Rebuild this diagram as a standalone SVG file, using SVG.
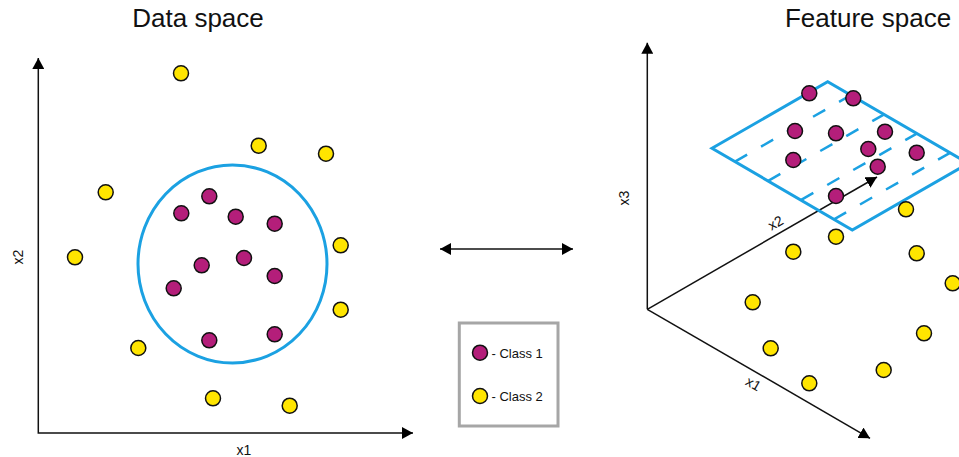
<svg xmlns="http://www.w3.org/2000/svg" width="959" height="457" viewBox="0 0 959 457">
  <style>
    text { font-family: "Liberation Sans", Arial, sans-serif; fill: #111; }
    .title { font-size: 26px; text-anchor: middle; }
    .axis-label { font-size: 14px; text-anchor: middle; }
    .legend-text { font-size: 13px; }
    .axis { fill: none; stroke: #111; stroke-width: 1.5; }
    .c1 { fill: #B41E7A; stroke: #111; stroke-width: 1.5; }
    .c2 { fill: #FFE500; stroke: #111; stroke-width: 1.5; }
    .boundary { fill: none; stroke: #1BA1E2; stroke-width: 3; }
    .grid { fill: none; stroke: #1BA1E2; stroke-width: 2.5; stroke-dasharray: 14 16; }
  </style>
  <defs>
    <marker id="arrow" viewBox="0 0 11 12" refX="11" refY="6" markerWidth="11" markerHeight="12" markerUnits="userSpaceOnUse" orient="auto-start-reverse">
      <path d="M0,0 L11,6 L0,12 z" fill="#000"/>
    </marker>
  </defs>
  <rect width="959" height="457" fill="#fff"/>

  <!-- titles -->
  <text class="title" x="198" y="27">Data space</text>
  <text class="title" x="868" y="27">Feature space</text>

  <!-- connectors: axes and the mapping arrow -->
  <g id="connectors">
    <polyline class="axis" points="38.3,58 38.3,433 413,433" marker-start="url(#arrow)" marker-end="url(#arrow)"/>
    <line class="axis" x1="440" y1="249" x2="573" y2="249" marker-start="url(#arrow)" marker-end="url(#arrow)"/>
    <line class="axis" x1="647.3" y1="309.3" x2="647.3" y2="42.7" marker-end="url(#arrow)"/>
    <line class="axis" x1="647.3" y1="309.3" x2="877" y2="177" marker-end="url(#arrow)"/>
    <line class="axis" x1="647.3" y1="309.3" x2="870" y2="438.3" marker-end="url(#arrow)"/>
  </g>

  <!-- axis labels -->
  <text class="axis-label" x="244" y="455">x1</text>
  <text class="axis-label" transform="translate(23,257) rotate(-90)">x2</text>
  <text class="axis-label" transform="translate(629,198) rotate(-90)">x3</text>
  <text class="axis-label" transform="translate(778,227) rotate(-30)">x2</text>
  <text class="axis-label" transform="translate(751,388) rotate(30)">x1</text>

  <!-- decision boundary in data space -->
  <g id="circle-boundary">
    <ellipse class="boundary" cx="232.5" cy="264" rx="94.5" ry="99"/>
  </g>

  <!-- separating plane in feature space -->
  <g id="plane">
    <polygon class="boundary" points="712,148.3 827.7,81.7 968.4,163.4 852.3,230"/>
    <line class="grid" x1="735" y1="161.6" x2="851" y2="95"/>
    <line class="grid" x1="768.2" y1="180.9" x2="884.2" y2="114.3"/>
    <line class="grid" x1="801.2" y1="199.9" x2="917.2" y2="133.3"/>
    <line class="grid" x1="834" y1="219.4" x2="950" y2="152.8"/>
  </g>

  <!-- data space points -->
  <g id="data-class2">
    <circle class="c2" cx="181" cy="73.3" r="7.5"/>
    <circle class="c2" cx="258.7" cy="145.7" r="7.5"/>
    <circle class="c2" cx="326" cy="153.7" r="7.5"/>
    <circle class="c2" cx="105.7" cy="192.3" r="7.5"/>
    <circle class="c2" cx="75" cy="257.3" r="7.5"/>
    <circle class="c2" cx="340.7" cy="245.3" r="7.5"/>
    <circle class="c2" cx="340.7" cy="309.7" r="7.5"/>
    <circle class="c2" cx="138.3" cy="348" r="7.5"/>
    <circle class="c2" cx="213" cy="398.3" r="7.5"/>
    <circle class="c2" cx="289.7" cy="405.7" r="7.5"/>
  </g>
  <g id="data-class1">
    <circle class="c1" cx="209.3" cy="196.3" r="7.5"/>
    <circle class="c1" cx="181.3" cy="213.3" r="7.5"/>
    <circle class="c1" cx="235.7" cy="216.7" r="7.5"/>
    <circle class="c1" cx="274.7" cy="223.7" r="7.5"/>
    <circle class="c1" cx="244" cy="258" r="7.5"/>
    <circle class="c1" cx="201.7" cy="265.3" r="7.5"/>
    <circle class="c1" cx="274.7" cy="276" r="7.5"/>
    <circle class="c1" cx="173.7" cy="288.3" r="7.5"/>
    <circle class="c1" cx="209.3" cy="340.3" r="7.5"/>
    <circle class="c1" cx="274.7" cy="334.3" r="7.5"/>
  </g>

  <!-- feature space points -->
  <g id="feature-class1">
    <circle class="c1" cx="809.3" cy="93.3" r="7.5"/>
    <circle class="c1" cx="853.3" cy="98.3" r="7.5"/>
    <circle class="c1" cx="795" cy="131" r="7.5"/>
    <circle class="c1" cx="836" cy="133.3" r="7.5"/>
    <circle class="c1" cx="885" cy="131.7" r="7.5"/>
    <circle class="c1" cx="868.3" cy="149" r="7.5"/>
    <circle class="c1" cx="793.3" cy="160" r="7.5"/>
    <circle class="c1" cx="916.7" cy="152.7" r="7.5"/>
    <circle class="c1" cx="877.7" cy="166.7" r="7.5"/>
    <circle class="c1" cx="836" cy="196" r="7.5"/>
  </g>
  <g id="feature-class2">
    <circle class="c2" cx="906" cy="209.3" r="7.5"/>
    <circle class="c2" cx="836" cy="236.7" r="7.5"/>
    <circle class="c2" cx="793.3" cy="251.7" r="7.5"/>
    <circle class="c2" cx="916.7" cy="253.3" r="7.5"/>
    <circle class="c2" cx="952.7" cy="283.3" r="7.5"/>
    <circle class="c2" cx="752.7" cy="302.3" r="7.5"/>
    <circle class="c2" cx="924" cy="333.3" r="7.5"/>
    <circle class="c2" cx="770.7" cy="348.3" r="7.5"/>
    <circle class="c2" cx="883.7" cy="370" r="7.5"/>
    <circle class="c2" cx="809.3" cy="383.3" r="7.5"/>
  </g>

  <!-- legend -->
  <g id="legend">
    <rect x="459.3" y="323" width="98.7" height="103" fill="#fff" stroke="#A6A6A6" stroke-width="3"/>
    <circle class="c1" cx="480" cy="352.7" r="7.5"/>
    <text class="legend-text" x="491.5" y="357.5">- Class 1</text>
    <circle class="c2" cx="480" cy="396" r="7.5"/>
    <text class="legend-text" x="491.5" y="400.5">- Class 2</text>
  </g>
</svg>
